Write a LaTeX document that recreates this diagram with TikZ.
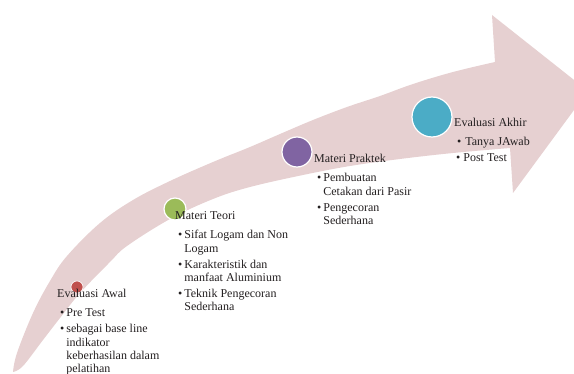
\documentclass[tikz,border=0pt]{standalone}
\usepackage{fontspec}
\setmainfont{Liberation Serif}
\definecolor{arrowpink}{RGB}{230,208,209}
\definecolor{cred}{RGB}{192,80,77}
\definecolor{cgreen}{RGB}{155,187,89}
\definecolor{cpurple}{RGB}{128,100,162}
\definecolor{cblue}{RGB}{75,172,198}
\definecolor{txt}{RGB}{35,31,32}
\begin{document}
\begin{tikzpicture}[x=1pt,y=-1pt,
  lbl/.style={anchor=base west, inner sep=0pt, text=txt, font=\fontsize{12}{13.3}\selectfont},
  dot/.style={circle, inner sep=0pt, draw=white, line width=1.2pt}]
\useasboundingbox (0,0) rectangle (574,374);
\begin{scope}
\clip (0,0) rectangle (574,374);
\fill[arrowpink] plot[smooth,tension=0.6] coordinates {(13,372) (17,353) (33,313) (50,281) (67,256) (100,223) (133,200) (170,181) (213,162) (250,147) (280,134) (313,120) (347,107) (380,96) (413,84) (453,72) (495,62)}
  -- (492,15) -- (588,91) -- (513,193) -- (510,148)
  -- plot[smooth,tension=0.6] coordinates {(510,148) (453,153) (400,159) (350,166) (303,175) (250,187) (213,199) (170,219) (127,246) (110,262) (80,293) (60,318) (43,340) (23,366) (13,372)} -- cycle;
\end{scope}
\node[dot, fill=cred, minimum size=12pt, line width=0.6pt] (c1) at (77,287) {};
\node[dot, fill=cgreen, minimum size=22pt] (c2) at (175,209) {};
\node[dot, fill=cpurple, minimum size=30pt] (c3) at (297,152) {};
\node[dot, fill=cblue, minimum size=40pt] (c4) at (432,117) {};

\node[lbl] (t1) at (57,298) {Evaluasi Awal};
\node[lbl] (i1) at (60,317) {\begin{tabular}[t]{@{}l@{\hspace{2pt}}l@{}}
\textbullet & Pre Test\\[2.7pt]
\textbullet & sebagai base line\\
 & indikator\\
 & keberhasilan dalam\\
 & pelatihan
\end{tabular}};

\node[lbl] (t2) at (175,220) {Materi Teori};
\node[lbl] (i2) at (178,239) {\begin{tabular}[t]{@{}l@{\hspace{2pt}}l@{}}
\textbullet & Sifat Logam dan Non\\
 & Logam\\[2.7pt]
\textbullet & Karakteristik dan\\
 & manfaat Aluminium\\[2.7pt]
\textbullet & Teknik Pengecoran\\
 & Sederhana
\end{tabular}};

\node[lbl] (t3) at (314,163) {Materi Praktek};
\node[lbl] (i3) at (317,182) {\begin{tabular}[t]{@{}l@{\hspace{2pt}}l@{}}
\textbullet & Pembuatan\\
 & Cetakan dari Pasir\\[2.7pt]
\textbullet & Pengecoran\\
 & Sederhana
\end{tabular}};

\node[lbl] (t4) at (454,127) {Evaluasi Akhir};
\node[lbl] (i4) at (456,146) {\begin{tabular}[t]{@{}l@{\hspace{2pt}}l@{}}
\hspace{1pt}\textbullet & \hspace{2pt}Tanya JAwab\\[2.7pt]
\textbullet & Post Test
\end{tabular}};
\end{tikzpicture}
\end{document}
